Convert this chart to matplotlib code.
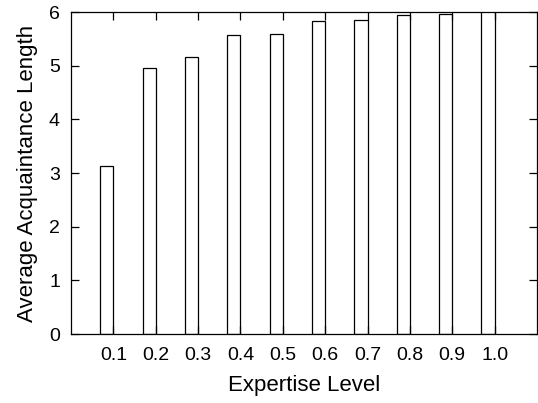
import numpy as np
import matplotlib.pyplot as plt

plt.rcParams['font.family'] = ['Liberation Sans', 'DejaVu Sans']

levels = [0.1, 0.2, 0.3, 0.4, 0.5, 0.6, 0.7, 0.8, 0.9, 1.0]
avg_len = [3.14, 4.96, 5.17, 5.57, 5.60, 5.83, 5.86, 5.94, 5.96, 6.02]
tick_labels = ['0.1', '0.2', '0.3', '0.4', '0.5', '0.6', '0.7', '0.8', '0.9', '1.0']

fig = plt.figure(figsize=(5.38, 4.03), dpi=100)
ax = fig.add_axes([0.132, 0.171, 0.866, 0.799])

# bars sit just left of their tick, like gnuplot output
ax.bar(levels, avg_len, width=-0.031, align='edge', facecolor='white',
       edgecolor='black', linewidth=0.9)

ax.set_xlim(0.0, 1.1)
ax.set_ylim(0, 6)
ax.set_xticks(levels)
ax.set_xticklabels(tick_labels)
ax.set_yticks(range(7))
ax.tick_params(direction='in', length=6, top=True, right=True, labelsize=14, width=0.9)
ax.tick_params(axis='x', pad=9)
ax.tick_params(axis='y', pad=8)
for s in ax.spines.values():
    s.set_linewidth(0.9)

ax.set_xlabel('Expertise Level', fontsize=16, labelpad=8)
ax.set_ylabel('Average Acquaintance Length', fontsize=16, labelpad=8)

plt.savefig('out.png', dpi=100)
